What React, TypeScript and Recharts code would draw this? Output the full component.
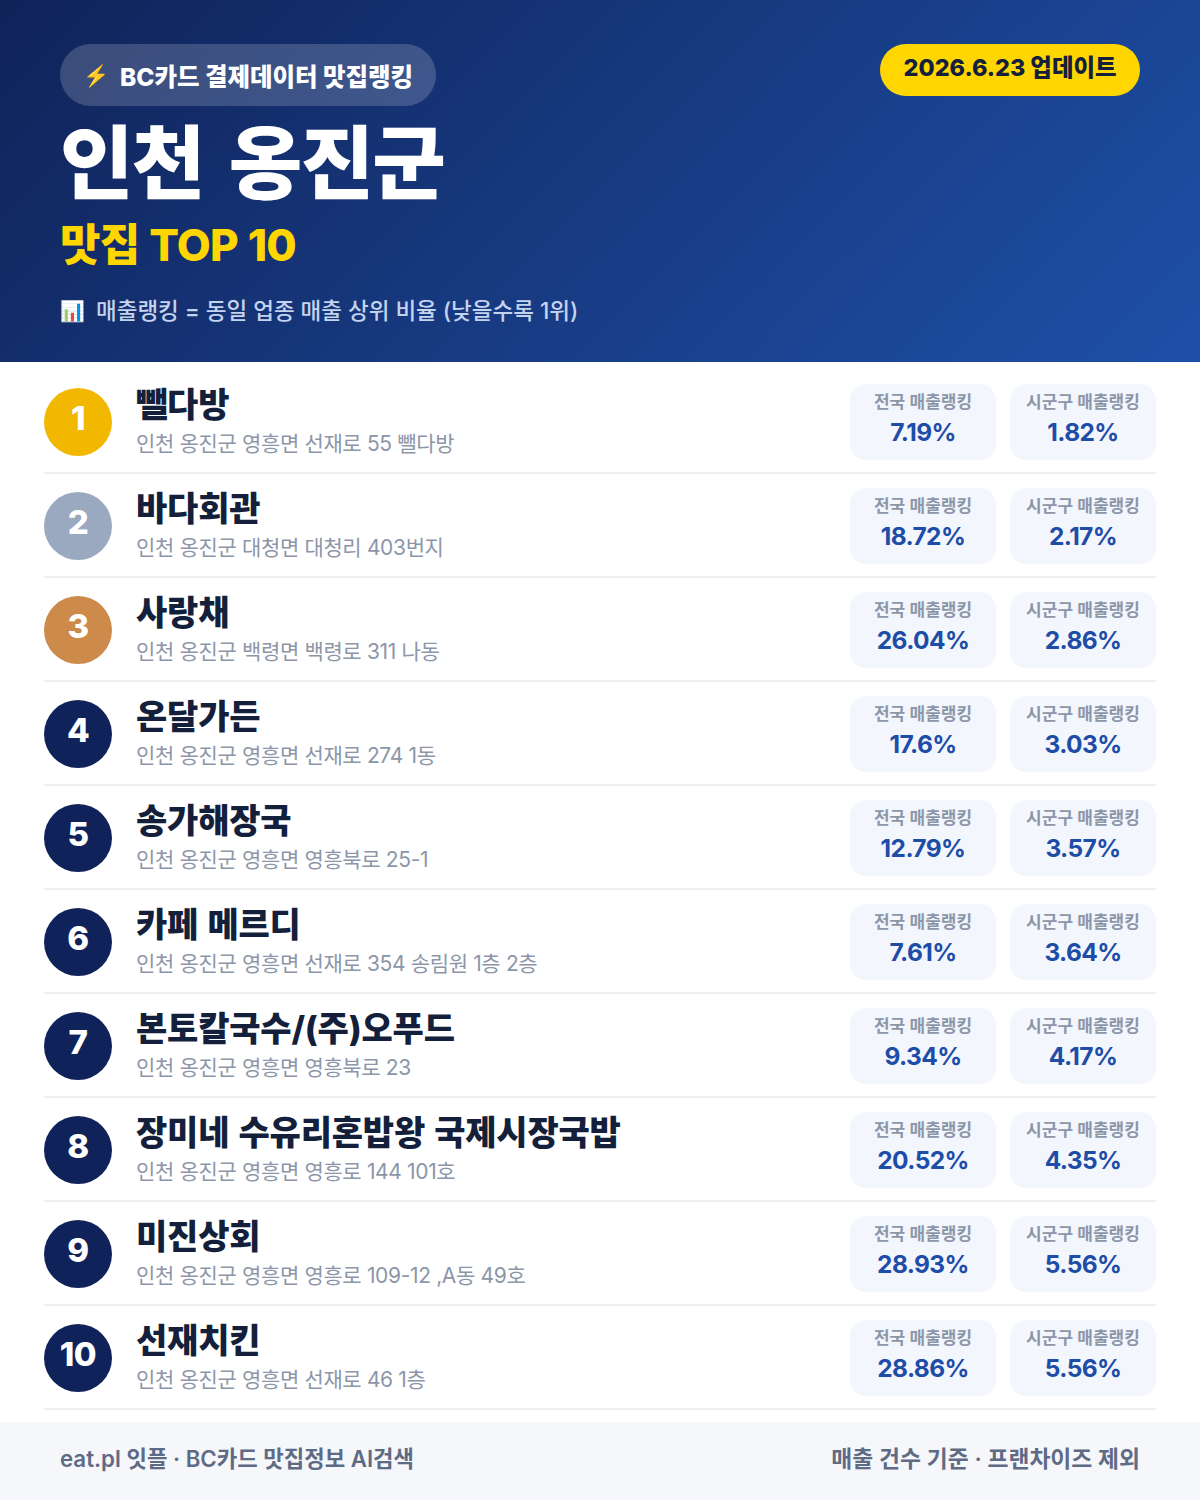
import React from "react";
import { BarChart, Bar, XAxis, YAxis } from "recharts";

const ranks = [1, 2, 3, 4, 5, 6, 7, 8, 9, 10];
const names = ["뺄다방", "바다회관", "사랑채", "온달가든", "송가해장국", "카페 메르디", "본토칼국수/(주)오푸드", "장미네 수유리혼밥왕 국제시장국밥", "미진상회", "선재치킨"];
const addresses = [
  "인천 옹진군 영흥면 선재로 55 뺄다방",
  "인천 옹진군 대청면 대청리 403번지",
  "인천 옹진군 백령면 백령로 311 나동",
  "인천 옹진군 영흥면 선재로 274 1동",
  "인천 옹진군 영흥면 영흥북로 25-1",
  "인천 옹진군 영흥면 선재로 354 송림원 1층 2층",
  "인천 옹진군 영흥면 영흥북로 23",
  "인천 옹진군 영흥면 영흥로 144 101호",
  "인천 옹진군 영흥면 영흥로 109-12 ,A동 49호",
  "인천 옹진군 영흥면 선재로 46 1층",
];
const nationalRank = [7.19, 18.72, 26.04, 17.6, 12.79, 7.61, 9.34, 20.52, 28.93, 28.86];
const localRank = [1.82, 2.17, 2.86, 3.03, 3.57, 3.64, 4.17, 4.35, 5.56, 5.56];
const medalColors = ["#F2B800", "#9AA8C0", "#CC8B4A"];
const NAVY = "#10225A";
const FONT = "Inter, 'Noto Sans CJK KR', 'Noto Sans', sans-serif";

const rows = names.map((name, i) => ({
  name,
  rank: ranks[i],
  address: addresses[i],
  national: nationalRank[i],
  local: localRank[i],
}));

function RowTick(props: any) {
  const { y, payload } = props;
  const row = rows.find((r) => r.name === payload.value)!;
  const color = medalColors[row.rank - 1] ?? NAVY;
  return (
    <g>
      <circle cx={78} cy={y} r={34} fill={color} />
      <text x={78} y={y + 8} textAnchor="middle" fontSize={33} fontWeight={800} fill="#fff" letterSpacing={-0.5} fontFamily={FONT}>{row.rank}</text>
      <text x={136} y={y - 5} fontSize={34} fontWeight={800} fill="#141F3B" letterSpacing={-0.2} wordSpacing={2} fontFamily={FONT}>{row.name}</text>
      <text x={136} y={y + 29} fontSize={21} fontWeight={400} fill="#8C96A8" letterSpacing={-0.35} fontFamily={FONT}>{row.address}</text>
      <rect x={44} y={y + 50} width={1112} height={2} fill="#ECEEF1" />
    </g>
  );
}

function card(label: string, offset: number, key: "national" | "local") {
  return (props: any) => {
    const { y, height, payload } = props;
    const cy = y + height / 2;
    const cx = offset + 73;
    return (
      <g>
        <rect x={offset} y={cy - 38} width={146} height={76} rx={16} ry={16} fill="#F3F6FC" />
        <text x={cx} y={cy - 14} textAnchor="middle" fontSize={17} fontWeight={600} fill="#8C96A8" fontFamily={FONT}>{label}</text>
        <text x={cx} y={cy + 19} textAnchor="middle" fontSize={24.5} fontWeight={700} fill="#1E4DA8" letterSpacing={-0.6} fontFamily={FONT}>{payload[key]}%</text>
      </g>
    );
  };
}

export default function App() {
  return (
    <div style={{ position: "absolute", left: 0, top: 0, width: 1200, height: 1500, background: "#fff", overflow: "hidden", fontFamily: FONT }}>
      <div style={{ position: "absolute", left: 0, top: 0, width: 1200, height: 362, background: "linear-gradient(135deg,#102359 0%,#1E50A8 100%)" }}>
        <div style={{ position: "absolute", left: 60, top: 44, width: 376, height: 62, borderRadius: 31, background: "rgba(255,255,255,0.18)" }} />
        <div style={{ position: "absolute", left: 83, top: 58, fontSize: 21, lineHeight: "36px", color: "#fff" }}>⚡</div>
        <div style={{ position: "absolute", left: 120, top: 57, fontSize: 24.5, lineHeight: "40px", fontWeight: 800, color: "#fff", whiteSpace: "nowrap" }}>BC카드 결제데이터 맛집랭킹</div>
        <div style={{ position: "absolute", left: 60, top: 118, fontSize: 80, lineHeight: "90px", fontWeight: 900, color: "#fff", whiteSpace: "nowrap", letterSpacing: -1.8, wordSpacing: 11 }}>인천 옹진군</div>
        <div style={{ position: "absolute", left: 60, top: 219, fontSize: 44, lineHeight: "52px", fontWeight: 800, color: "#FFD600", whiteSpace: "nowrap", letterSpacing: -0.8, wordSpacing: 1 }}>맛집 TOP 10</div>
        <div style={{ position: "absolute", left: 60, top: 293, fontSize: 20, lineHeight: "36px", color: "#fff", whiteSpace: "nowrap" }}>📊</div>
        <div style={{ position: "absolute", left: 96, top: 293, fontSize: 22.5, lineHeight: "36px", fontWeight: 500, color: "#C4D3EE", whiteSpace: "nowrap" }}>매출랭킹 = 동일 업종 매출 상위 비율 (낮을수록 1위)</div>
        <div style={{ position: "absolute", left: 880, top: 44, width: 260, height: 52, borderRadius: 26, background: "#FFD600", textAlign: "center", fontSize: 23.4, lineHeight: "48px", fontWeight: 800, color: "#141F3B", whiteSpace: "nowrap" }}>2026.6.23 업데이트</div>
      </div>

      <div style={{ position: "absolute", left: 0, top: 370 }}>
        <BarChart width={1200} height={1040} data={rows} layout="vertical" barCategoryGap={0} margin={{ top: 0, right: 44, bottom: 0, left: 0 }}>
          <XAxis type="number" hide domain={[0, 100]} />
          <YAxis type="category" dataKey="name" width={850} interval={0} axisLine={false} tickLine={false} tick={RowTick} />
          <Bar dataKey="national" stackId="rank" isAnimationActive={false} shape={card("전국 매출랭킹", 850, "national")} />
          <Bar dataKey="local" stackId="rank" isAnimationActive={false} shape={card("시군구 매출랭킹", 1010, "local")} />
        </BarChart>
      </div>

      <div style={{ position: "absolute", left: 0, top: 1422, width: 1200, height: 78, background: "#F5F7FB" }}>
        <div style={{ position: "absolute", left: 60, top: 19, fontSize: 22.25, lineHeight: "36px", fontWeight: 600, color: "#5F6B85", whiteSpace: "nowrap" }}>eat.pl 잇플 · BC카드 맛집정보 AI검색</div>
        <div style={{ position: "absolute", right: 60, top: 19, fontSize: 22.8, lineHeight: "36px", fontWeight: 600, color: "#5F6B85", whiteSpace: "nowrap" }}>매출 건수 기준 · 프랜차이즈 제외</div>
      </div>
    </div>
  );
}
